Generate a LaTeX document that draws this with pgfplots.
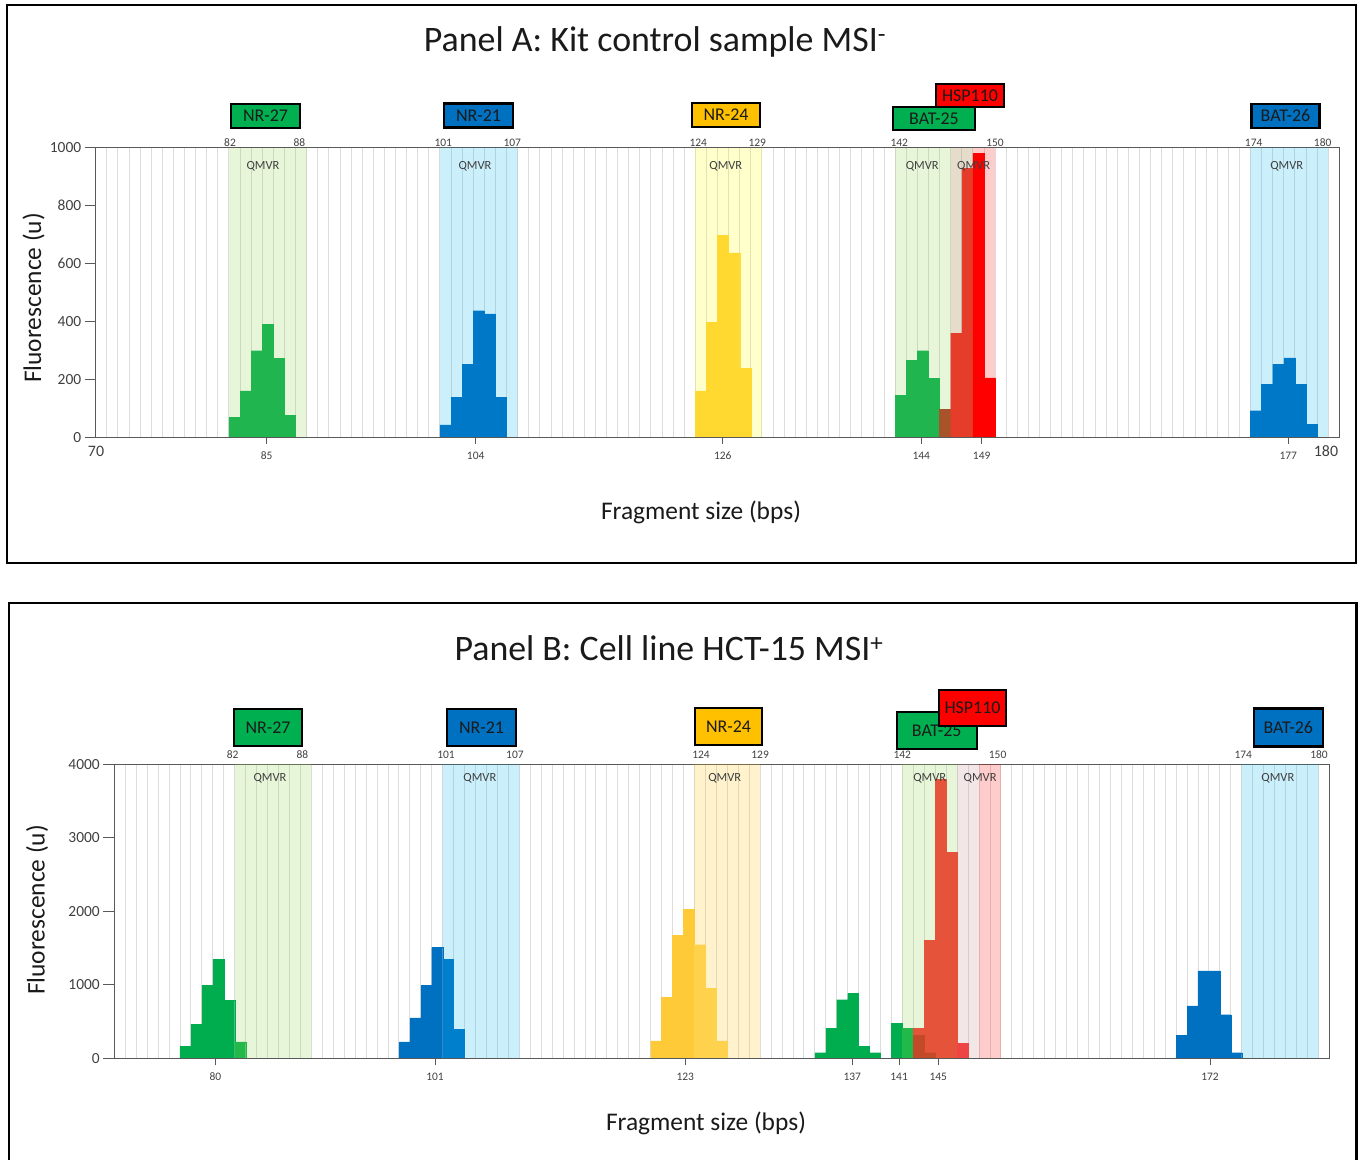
\documentclass[border=0pt]{standalone}
\usepackage{fontspec}
\setmainfont{Carlito}
\usepackage{pgfplots}
\pgfplotsset{compat=1.18}

\definecolor{axc}{HTML}{595959}
\definecolor{gridc}{HTML}{DCDCDC}
\definecolor{tickc}{HTML}{404040}
\definecolor{txtc}{HTML}{1A1A1A}
\definecolor{bGreen}{HTML}{00B050}
\definecolor{bBlue}{HTML}{0070C0}
\definecolor{bYellow}{HTML}{FFC000}
\definecolor{bRed}{HTML}{FF0000}
\definecolor{sGreen}{HTML}{92D050}
\definecolor{sBlue}{HTML}{00B0F0}
\definecolor{sYellow}{HTML}{FFFF00}
\definecolor{sOrange}{HTML}{FFC000}
\definecolor{sRed}{HTML}{FF0000}
\definecolor{sBeige}{HTML}{BA9F71}
\definecolor{sGreyPink}{HTML}{CB9B9B}
\definecolor{aGreen}{HTML}{21B550}
\definecolor{aBlue}{HTML}{0078C8}
\definecolor{aYellow}{HTML}{FFD92F}
\definecolor{aBrown}{HTML}{A9532A}
\definecolor{aRedOr}{HTML}{E63C2A}
\definecolor{aRed}{HTML}{FF0000}
\definecolor{cGreen}{HTML}{00AD4E}
\definecolor{cGreenL}{HTML}{22B84A}
\definecolor{cBlue}{HTML}{0070C0}
\definecolor{cBlueL}{HTML}{0080CC}
\definecolor{cYel}{HTML}{FFCA38}
\definecolor{cYelL}{HTML}{FFD24D}
\definecolor{cRed}{HTML}{E6533B}
\definecolor{cBrown}{HTML}{C24A28}
\definecolor{cRedL}{HTML}{EE4444}

\pgfplotsset{
  bars/.style={ybar, bar width=1, bar shift=0pt, line width=0.3bp, forget plot},
  shade/.style={ybar, bar shift=0pt, draw=none, forget plot},
  panel/.style={
    scale only axis, clip=false, anchor=south west,
    axis line style={draw=axc, line width=1.1bp},
    minor grid style={draw=gridc, line width=0.9bp},
    xminorgrids=true, minor tick length=0pt,
    tick pos=left, tick align=outside,
    major tick length=11bp,
    tick style={draw=axc, line width=0.9bp},
    xtick style={/pgfplots/major tick length=7bp},
    xticklabel style={font=\fontsize{11.5}{12}\selectfont, text=tickc},
    yticklabel style={font=\fontsize{15.5}{16}\selectfont, text=tickc},
    /pgf/number format/assume math mode=true,
    /pgf/number format/1000 sep={},
    scaled y ticks=false,
  }
}
\tikzset{
  toplab/.style={font=\fontsize{11.5}{12}\selectfont, text=tickc, anchor=base, inner sep=0pt},
  qlab/.style={font=\fontsize{12.5}{13}\selectfont, text=tickc, anchor=base, inner sep=0pt},
  mbox/.style={draw=black, line width=2.2bp, font=\fontsize{18}{18}\selectfont, inner sep=0pt, text=txtc},
}

\begin{document}
\begin{tikzpicture}

% ---------------- Panel A ----------------
\begin{axis}[panel,
  at={(95.7bp,-437.3bp)},
  width=1243.6bp, height=289.6bp,
  xmin=69.5, xmax=181.5, ymin=0, ymax=1000,
  xtick={84.9,103.72,125.97,143.85,149.29,176.9},
  xticklabels={85,104,126,144,149,177},
  minor xtick={70.5,71.5,...,180.5},
  ytick={0,200,...,1000},
]
% QMVR shading
\addplot[shade, bar width=7, fill=sGreen, fill opacity=0.22] coordinates {(85,1000)};
\addplot[shade, bar width=5, fill=sGreen, fill opacity=0.22] coordinates {(144,1000)};
\addplot[shade, bar width=7, fill=sBlue, fill opacity=0.2] coordinates {(104,1000) (177,1000)};
\addplot[shade, bar width=6, fill=sYellow, fill opacity=0.2] coordinates {(126.5,1000)};
\addplot[shade, bar width=2, fill=sBeige, fill opacity=0.37] coordinates {(147.5,1000)};
\addplot[shade, bar width=2, fill=sRed, fill opacity=0.2] coordinates {(149.5,1000)};
% bars
\addplot[bars, fill=aGreen, draw=aGreen] coordinates {(82,69) (83,160) (84,299) (85,390) (86,273) (87,77)};
\addplot[bars, fill=aGreen, draw=aGreen] coordinates {(142,146) (143,265) (144,299) (145,204)};
\addplot[bars, fill=aBlue, draw=aBlue] coordinates {(101,43) (102,138) (103,251) (104,437) (105,426) (106,138)};
\addplot[bars, fill=aBlue, draw=aBlue] coordinates {(174,92) (175,184) (176,253) (177,274) (178,184) (179,44)};
\addplot[bars, fill=aYellow, draw=aYellow] coordinates {(124,160) (125,398) (126,697) (127,637) (128,238)};
\addplot[bars, fill=aBrown, draw=aBrown] coordinates {(146,97)};
\addplot[bars, fill=aRedOr, draw=aRedOr] coordinates {(147,360) (148,929)};
\addplot[bars, fill=aRed, draw=aRed] coordinates {(149,980) (150,205)};
\draw[axc, line width=1.1bp] (rel axis cs:0,0) -- (rel axis cs:1,0);
% range labels
\node[toplab, yshift=1.4bp] at (axis cs:81.6,1000) {82};
\node[toplab, yshift=1.4bp] at (axis cs:87.84,1000) {88};
\node[toplab, yshift=1.4bp] at (axis cs:100.8,1000) {101};
\node[toplab, yshift=1.4bp] at (axis cs:107.02,1000) {107};
\node[toplab, yshift=1.4bp] at (axis cs:123.77,1000) {124};
\node[toplab, yshift=1.4bp] at (axis cs:129.08,1000) {129};
\node[toplab, yshift=1.4bp] at (axis cs:141.87,1000) {142};
\node[toplab, yshift=1.4bp] at (axis cs:150.49,1000) {150};
\node[toplab, yshift=1.4bp] at (axis cs:173.79,1000) {174};
\node[toplab, yshift=1.4bp] at (axis cs:180.0,1000) {180};
% QMVR labels
\node[qlab, yshift=-22bp] at (axis cs:84.57,1000) {QMVR};
\node[qlab, yshift=-22bp] at (axis cs:103.66,1000) {QMVR};
\node[qlab, yshift=-22bp] at (axis cs:126.25,1000) {QMVR};
\node[qlab, yshift=-22bp] at (axis cs:143.94,1000) {QMVR};
\node[qlab, yshift=-22bp] at (axis cs:148.57,1000) {QMVR};
\node[qlab, yshift=-22bp] at (axis cs:176.76,1000) {QMVR};
% secondary axis ends
\node[font=\fontsize{16}{16}\selectfont, text=tickc, yshift=-14bp] at (axis cs:69.53,0) {70};
\node[font=\fontsize{16}{16}\selectfont, text=tickc, yshift=-14bp] at (axis cs:180.3,0) {180};
\end{axis}

% ---------------- Panel B ----------------
\begin{axis}[panel,
  at={(114.3bp,-1058.3bp)},
  width=1215bp, height=294bp,
  xmin=70.5, xmax=181.5, ymin=0, ymax=4000,
  xtick={79.73,99.8,122.66,137.92,142.2,145.78,170.6},
  xticklabels={80,101,123,137,141,145,172},
  minor xtick={71.5,72.5,...,180.5},
  ytick={0,1000,...,4000},
]
\addplot[shade, bar width=7, fill=sGreen, fill opacity=0.22] coordinates {(85,4000)};
\addplot[shade, bar width=5, fill=sGreen, fill opacity=0.22] coordinates {(145,4000)};
\addplot[shade, bar width=7, fill=sBlue, fill opacity=0.2] coordinates {(104,4000) (177,4000)};
\addplot[shade, bar width=6, fill=sOrange, fill opacity=0.2] coordinates {(126.5,4000)};
\addplot[shade, bar width=2, fill=sGreyPink, fill opacity=0.25] coordinates {(148.5,4000)};
\addplot[shade, bar width=2, fill=sRed, fill opacity=0.2] coordinates {(150.5,4000)};
% bars
\addplot[bars, fill=cGreen, draw=cGreen] coordinates {(77,159) (78,463) (79,989) (80,1351) (81,789)};
\addplot[bars, fill=cGreen, draw=cGreen] coordinates {(135,77) (136,404) (137,798) (138,884) (139,163) (140,77) (142,472)};
\addplot[bars, fill=cGreenL, draw=cGreenL] coordinates {(82,222) (143,404)};
\addplot[bars, fill=cBlue, draw=cBlue] coordinates {(97,222) (98,549) (99,989) (100,1506)};
\addplot[bars, fill=cBlueL, draw=cBlueL] coordinates {(101,1351) (102,395)};
\addplot[bars, fill=cBlue, draw=cBlue] coordinates {(168,317) (169,712) (170,1188) (171,1188) (172,594) (173,77)};
\addplot[bars, fill=cYel, draw=cYel] coordinates {(120,236) (121,830) (122,1669) (123,2027)};
\addplot[bars, fill=cYelL, draw=cYelL] coordinates {(124,1546) (125,952) (126,236)};
\addplot[bars, fill=cRed, draw=cRed] coordinates {(144,404) (145,1601) (146,3796) (147,2803)};
\addplot[bars, fill=cBrown, draw=cBrown] coordinates {(144,317) (145,77)};
\addplot[bars, fill=cRedL, draw=cRedL] coordinates {(148,200)};
\draw[axc, line width=1.1bp] (rel axis cs:0,0) -- (rel axis cs:1,0);
\node[toplab, yshift=5.9bp] at (axis cs:81.32,4000) {82};
\node[toplab, yshift=5.9bp] at (axis cs:87.68,4000) {88};
\node[toplab, yshift=5.9bp] at (axis cs:100.8,4000) {101};
\node[toplab, yshift=5.9bp] at (axis cs:107.1,4000) {107};
\node[toplab, yshift=5.9bp] at (axis cs:124.1,4000) {124};
\node[toplab, yshift=5.9bp] at (axis cs:129.5,4000) {129};
\node[toplab, yshift=5.9bp] at (axis cs:142.49,4000) {142};
\node[toplab, yshift=5.9bp] at (axis cs:151.2,4000) {150};
\node[toplab, yshift=5.9bp] at (axis cs:173.64,4000) {174};
\node[toplab, yshift=5.9bp] at (axis cs:180.56,4000) {180};
\node[qlab, yshift=-16.7bp] at (axis cs:84.72,4000) {QMVR};
\node[qlab, yshift=-16.7bp] at (axis cs:103.9,4000) {QMVR};
\node[qlab, yshift=-16.7bp] at (axis cs:126.27,4000) {QMVR};
\node[qlab, yshift=-16.7bp] at (axis cs:145.0,4000) {QMVR};
\node[qlab, yshift=-16.7bp] at (axis cs:149.6,4000) {QMVR};
\node[qlab, yshift=-16.7bp] at (axis cs:176.8,4000) {QMVR};
\end{axis}

% ---------------- annotations (pixel coordinates) ----------------
\begin{scope}[x=1bp, y=-1bp]
\draw[black, line width=2.2bp] (7.3,5) rectangle (1356,563.3);
\draw[black, line width=2.2bp] (9,603.3) rectangle (1356.5,1175);

\node[anchor=base, font=\fontsize{36}{40}\selectfont, text=txtc] at (655,51.5) {Panel A: Kit control sample MSI\textsuperscript{-}};
\node[anchor=base, font=\fontsize{36}{40}\selectfont, text=txtc] at (669,660.5) {Panel B: Cell line HCT-15 MSI\textsuperscript{+}};

\node[anchor=base, font=\fontsize{25.5}{28}\selectfont, text=txtc] at (701,519) {Fragment size (bps)};
\node[anchor=base, font=\fontsize{25.5}{28}\selectfont, text=txtc] at (706,1130) {Fragment size (bps)};
\node[anchor=base, rotate=90, font=\fontsize{25.5}{28}\selectfont, text=txtc] at (41,298) {Fluorescence (u)};
\node[anchor=base, rotate=90, font=\fontsize{25.5}{28}\selectfont, text=txtc] at (44.5,910) {Fluorescence (u)};

% marker boxes, panel A
\node[mbox, fill=bGreen, minimum width=69bp, minimum height=24bp] at (265.5,116) {NR-27};
\node[mbox, fill=bBlue, minimum width=69bp, minimum height=24bp] at (478.5,115.5) {NR-21};
\node[mbox, fill=bYellow, minimum width=68bp, minimum height=24bp] at (726,115) {NR-24};
\node[mbox, fill=bGreen, minimum width=82bp, minimum height=23bp] at (934,118.7) {BAT-25};
\node[mbox, fill=bRed, minimum width=68bp, minimum height=23bp] at (970,95.7) {HSP110};
\node[mbox, fill=bBlue, minimum width=68bp, minimum height=24bp] at (1285.5,115.8) {BAT-26};
% marker boxes, panel B
\node[mbox, fill=bGreen, minimum width=68bp, minimum height=37bp] at (268,727.5) {NR-27};
\node[mbox, fill=bBlue, minimum width=69bp, minimum height=37bp] at (481.5,727.5) {NR-21};
\node[mbox, fill=bYellow, minimum width=67bp, minimum height=37bp] at (728.5,726.5) {NR-24};
\node[mbox, fill=bGreen, minimum width=80bp, minimum height=37bp] at (936.7,730.5) {BAT-25};
\node[mbox, fill=bRed, minimum width=67bp, minimum height=36bp] at (972.5,708) {HSP110};
\node[mbox, fill=bBlue, minimum width=69bp, minimum height=38bp] at (1288.3,727.5) {BAT-26};
\end{scope}

\pgfresetboundingbox
\path[use as bounding box] (0,0) rectangle (1363bp,-1160bp);
\end{tikzpicture}
\end{document}
